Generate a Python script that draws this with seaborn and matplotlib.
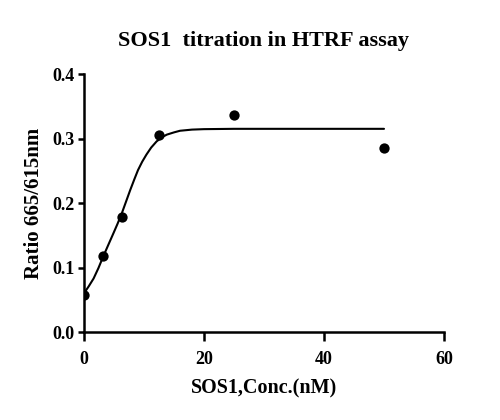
import seaborn as sns
import pandas as pd
import matplotlib.pyplot as plt

# measured points
conc = [0, 3.125, 6.25, 12.5, 25, 50]
ratio = [0.058, 0.118, 0.179, 0.306, 0.337, 0.286]

# fitted curve
fit_x = [0, 0.8, 1.6, 2.4, 3.2, 4.0, 4.9, 5.6, 6.3, 7.0, 7.7, 8.4, 9.0, 9.7, 10.4, 11.2, 12.1, 13.0, 13.8, 15.0, 16.0, 18.0, 20.0, 25.0, 30.0, 40.0, 50.0]
fit_y = [0.060, 0.071, 0.083, 0.099, 0.117, 0.134, 0.153, 0.168, 0.184, 0.202, 0.220, 0.237, 0.251, 0.264, 0.275, 0.286, 0.2955, 0.302, 0.306, 0.3095, 0.312, 0.3138, 0.3145, 0.315, 0.315, 0.315, 0.315]

pts = pd.DataFrame({"conc": conc, "ratio": ratio})
curve = pd.DataFrame({"x": fit_x, "y": fit_y})

sns.set_theme(style="ticks")
plt.rcParams['font.family'] = ['Liberation Serif', 'DejaVu Serif']
plt.rcParams['font.weight'] = 'bold'
plt.rcParams['text.color'] = 'black'
plt.rcParams['axes.labelcolor'] = 'black'
plt.rcParams['xtick.color'] = 'black'
plt.rcParams['ytick.color'] = 'black'

fig = plt.figure(figsize=(5, 4.2), dpi=100)
ax = fig.add_axes([0.168, 0.2095, 0.72, 0.6143])

sns.lineplot(x="x", y="y", data=curve, ax=ax, color="black", linewidth=1.5, sort=False)
sns.scatterplot(x="conc", y="ratio", data=pts, ax=ax, color="black", s=55, edgecolor="black", linewidth=0, zorder=3)

ax.set_xlim(0, 60)
ax.set_ylim(0, 0.4)
ax.set_xticks([0, 20, 40, 60])
ax.set_yticks([0.0, 0.1, 0.2, 0.3, 0.4])
ax.set_yticklabels(["0.0", "0.1", "0.2", "0.3", "0.4"])
for s in ["top", "right"]:
    ax.spines[s].set_visible(False)
for s in ["left", "bottom"]:
    ax.spines[s].set_linewidth(1.8)
    ax.spines[s].set_color("black")
ax.spines["left"].set_zorder(0)
ax.tick_params(axis="x", length=6.5, width=1.8, pad=7, labelsize=13, colors="black")
ax.tick_params(axis="y", length=4.5, width=1.8, pad=2, labelsize=13, colors="black")
for lab in ax.get_xticklabels() + ax.get_yticklabels():
    lab.set_fontweight("bold")

ax.set_xlabel("SOS1,Conc.(nM)", fontsize=14.5, fontweight="bold", labelpad=8, color="black")
ax.set_ylabel("Ratio 665/615nm", fontsize=15, fontweight="bold", labelpad=6, color="black")
ax.set_title("SOS1  titration in HTRF assay", fontsize=16, fontweight="bold", pad=20, color="black")

fig.savefig("out.png", dpi=100)
